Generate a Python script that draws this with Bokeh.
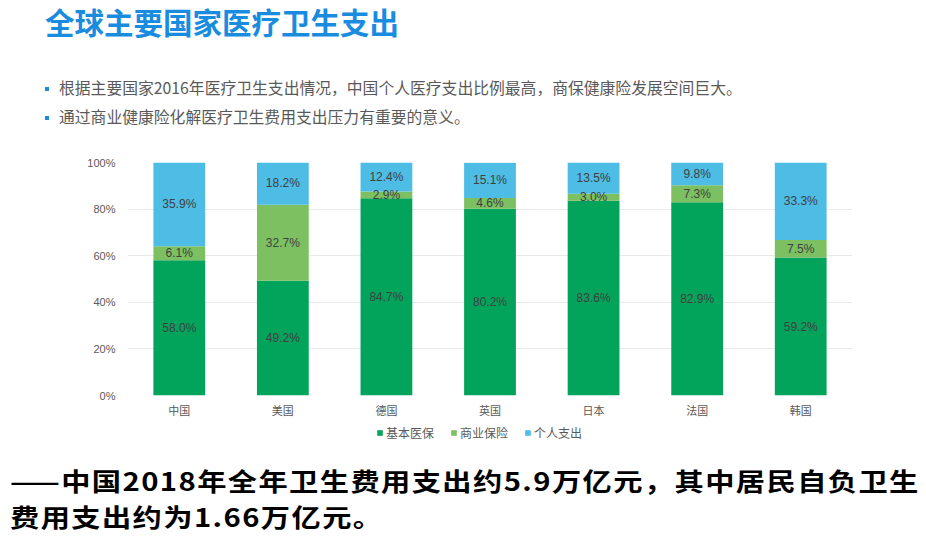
from bokeh.plotting import figure
from bokeh.layouts import column
from bokeh.models import (ColumnDataSource, FactorRange, Range1d, FixedTicker,
                          NumeralTickFormatter, Legend, LegendItem, Div)
from bokeh.core.properties import value
from bokeh.embed import file_html
from bokeh.resources import INLINE

# ---- data ----
countries = ["中国", "美国", "德国", "英国", "日本", "法国", "韩国"]
basic = [58.0, 49.2, 84.7, 80.2, 83.6, 82.9, 59.2]        # 基本医保
commercial = [6.1, 32.7, 2.9, 4.6, 3.0, 7.3, 7.5]          # 商业保险
personal = [35.9, 18.2, 12.4, 15.1, 13.5, 9.8, 33.3]       # 个人支出
series_names = ["基本医保", "商业保险", "个人支出"]
y_ticks = [0, 0.2, 0.4, 0.6, 0.8, 1.0]

title_text = "全球主要国家医疗卫生支出"
bullet_lines = ["根据主要国家2016年医疗卫生支出情况，中国个人医疗支出比例最高，商保健康险发展空间巨大。",
                "通过商业健康险化解医疗卫生费用支出压力有重要的意义。"]
note_lines = ["——中国2018年全年卫生费用支出约5.9万亿元，其中居民自负卫生",
              "费用支出约为1.66万亿元。"]

colors = ["#02a45c", "#7cc062", "#4dbde5"]
accent = "#1a8ce0"
CJK = "Noto Sans CJK SC"
LAT = "Liberation Sans, Noto Sans CJK SC"

W = 910
TOP_H = 150
FL, FW = 127, 725
FR = W - FL - FW
CHART_TOP, FT, FB, CHART_BOT = 150, 162, 395, 424
LEG_H = 20
BOT_H = 88

# ---- derived ----
series = [basic, commercial, personal]
keys = ["basic", "commercial", "personal"]
src = {"country": countries}
for k, s in zip(keys, series):
    src[k] = [v / 100.0 for v in s]
source = ColumnDataSource(src)

lab_x, lab_y, lab_t = [], [], []
for i, c in enumerate(countries):
    base = 0.0
    for s in series:
        v = s[i] / 100.0
        lab_x.append(c)
        lab_y.append(base + v / 2)
        lab_t.append(f"{s[i]:.1f}%")
        base += v
lab_src = ColumnDataSource(dict(x=lab_x, y=lab_y, t=lab_t))

# ---- top texts ----
bullet_html = "".join(
    f'<div style="padding-left:45px;font-size:15.8px;color:#595959;line-height:29px;height:29px;'
    f'white-space:nowrap;"><span style="display:inline-block;width:4px;height:4px;'
    f'background:{accent};vertical-align:middle;margin-right:10px;position:relative;top:-1px;"></span>{t}</div>'
    for t in bullet_lines)
top_html = (
    f'<div style="font-family:\'{CJK}\',sans-serif;width:{W}px;height:{TOP_H}px;margin:0;padding:0;">'
    f'<div style="padding-left:45px;font-size:29.5px;font-weight:bold;color:{accent};line-height:43px;'
    f'height:43px;white-space:nowrap;">{title_text}</div>'
    f'<div style="height:30px;"></div>{bullet_html}</div>')
top = Div(text=top_html, width=W, height=TOP_H, margin=0)

# ---- chart ----
p = figure(width=W, height=CHART_BOT - CHART_TOP, x_range=FactorRange(*countries),
           y_range=Range1d(0, 1), output_backend="svg", toolbar_location=None,
           min_border_left=FL, min_border_right=FR,
           min_border_top=FT - CHART_TOP, min_border_bottom=CHART_BOT - FB)
p.outline_line_color = None

rs = p.vbar_stack(keys, x="country", width=0.5, color=colors, source=source,
                  line_color=None)

p.text(x="x", y="y", text="t", source=lab_src, text_align="center", text_baseline="middle",
       text_font=value(LAT), text_font_size="12px", text_color="#404040")

p.yaxis.ticker = FixedTicker(ticks=y_ticks)
p.yaxis.formatter = NumeralTickFormatter(format="0%")
for ax in (p.xaxis[0], p.yaxis[0]):
    ax.axis_line_color = None
    ax.major_tick_line_color = None
    ax.minor_tick_line_color = None
    ax.major_tick_out = 0
    ax.major_tick_in = 0
    ax.major_label_text_font = LAT
    ax.major_label_text_font_size = "11px"
    ax.major_label_text_color = "#595959"
p.yaxis.major_label_standoff = 12
p.xaxis.major_label_standoff = 9
p.xgrid.grid_line_color = None
p.ygrid.grid_line_color = "#e9e9e9"

# ---- legend strip (own small plot, same borders so it lines up) ----
# the stacked series are drawn here outside the visible y range only to give the legend its keys
lg = figure(width=W, height=LEG_H, x_range=FactorRange(*countries), y_range=Range1d(5, 6),
            x_axis_type=None, y_axis_type=None, output_backend="svg", toolbar_location=None,
            min_border_left=FL, min_border_right=FR, min_border_top=0, min_border_bottom=0)
lg.outline_line_color = None
lg.grid.visible = False
key_rs = lg.vbar_stack(keys, x="country", width=0.5, color=colors, source=source, line_color=None)
legend = Legend(items=[LegendItem(label=n, renderers=[r]) for n, r in zip(series_names, key_rs)],
                orientation="horizontal", location=(376 - FL, 3),
                glyph_width=7, glyph_height=7, label_height=14, label_standoff=3, spacing=16,
                label_text_font=CJK, label_text_font_size="12px", label_text_color="#595959",
                border_line_color=None, background_fill_alpha=0, padding=0, margin=0)
lg.add_layout(legend, "center")

# ---- bottom note (wide bold face, like the reference) ----
note_inner = "".join(
    f'<div style="height:36.5px;line-height:36.5px;white-space:nowrap;">'
    f'<span style="display:inline-block;transform:scaleX(1.17);transform-origin:0 50%;">{t}</span></div>'
    for t in note_lines)
note_html = (
    f'<div style="font-family:\'{CJK}\',sans-serif;width:{W}px;height:{BOT_H}px;margin:0;'
    f'padding:17.75px 0 0 10px;box-sizing:border-box;font-size:25px;font-weight:bold;color:#000;'
    f'letter-spacing:1.2px;">' + note_inner + '</div>')
bot = Div(text=note_html, width=W, height=BOT_H, margin=0)

layout = column(top, p, lg, bot, spacing=0)
open("out.html", "w").write(file_html(layout, INLINE))
